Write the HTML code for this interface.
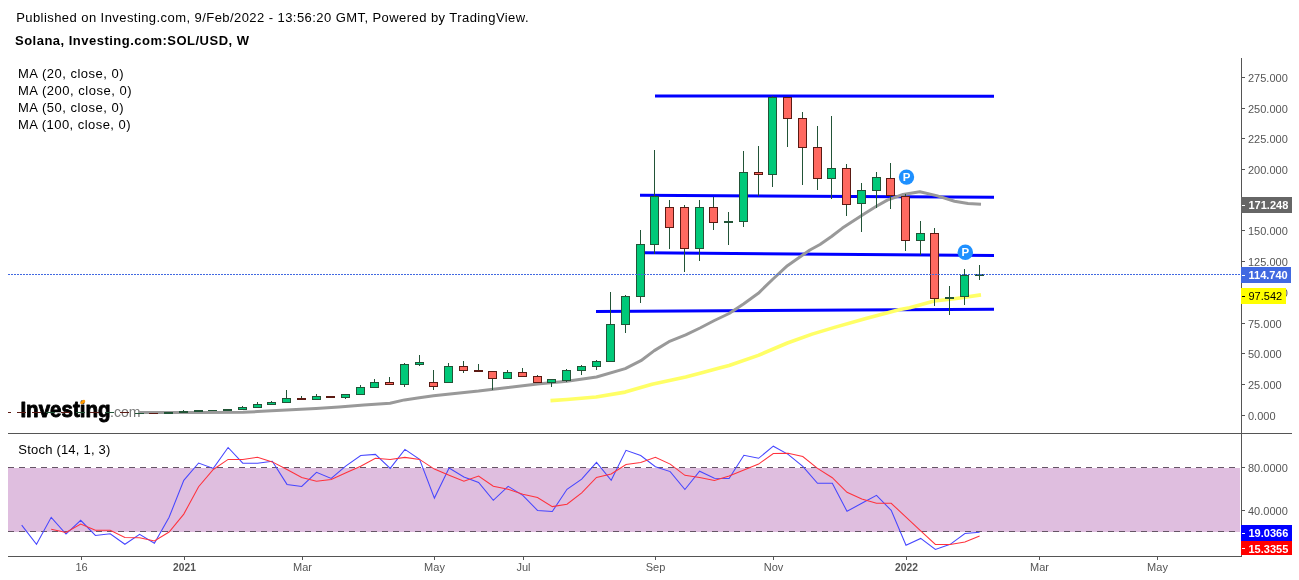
<!DOCTYPE html>
<html lang="en"><head><meta charset="utf-8"><title>Solana SOL/USD weekly chart</title>
<style>html,body{margin:0;padding:0;background:#fff}body{width:1299px;height:580px;overflow:hidden}svg{display:block}text{font-family:"Liberation Sans",Arial,sans-serif}.ax{font-size:11px;fill:#555}.tg{font-size:11px;font-weight:bold;fill:#fff}.lb{font-size:13px;fill:#000}</style></head><body>
<svg width="1299" height="580" viewBox="0 0 1299 580">
<rect width="1299" height="580" fill="#fff"/>
<defs><clipPath id="cp"><rect x="8" y="57" width="1233" height="376"/></clipPath></defs>
<text class="lb" x="16.2" y="22" textLength="512.3" lengthAdjust="spacing">Published on Investing.com, 9/Feb/2022 - 13:56:20 GMT, Powered by TradingView.</text>
<text class="lb" x="15" y="45" font-weight="bold" fill="#000" textLength="234" lengthAdjust="spacing">Solana, Investing.com:SOL/USD, W</text>
<text class="lb" x="18" y="78.3" textLength="105.5" lengthAdjust="spacing">MA (20, close, 0)</text>
<text class="lb" x="18" y="95.3" textLength="113.5" lengthAdjust="spacing">MA (200, close, 0)</text>
<text class="lb" x="18" y="112.3" textLength="105.5" lengthAdjust="spacing">MA (50, close, 0)</text>
<text class="lb" x="18" y="129.3" textLength="112.5" lengthAdjust="spacing">MA (100, close, 0)</text>
<g id="logo"><text x="20.4" y="416.7" font-size="21.5" font-weight="bold" fill="#000" stroke="#000" stroke-width="0.9" stroke-linejoin="round" textLength="90.2" lengthAdjust="spacingAndGlyphs">Investing</text>
<text x="110" y="416.7" font-size="14" fill="#777" textLength="30.5" lengthAdjust="spacingAndGlyphs">.com</text>
<ellipse cx="82.8" cy="402" rx="2.8" ry="1.6" fill="#FF9900" transform="rotate(-35 82.8 402)"/></g>
<rect x="8" y="468" width="1232" height="64" fill="#DFBEDF" shape-rendering="crispEdges"/>
<g stroke="#665566" stroke-width="1" stroke-dasharray="6 5" shape-rendering="crispEdges"><line x1="8" y1="467.5" x2="1240" y2="467.5"/><line x1="8" y1="531.5" x2="1240" y2="531.5"/></g>
<g stroke="#0000FF" stroke-width="3" fill="none">
<line x1="655" y1="96" x2="994" y2="96.2"/>
<line x1="640" y1="195.2" x2="994" y2="197.2"/>
<line x1="644.5" y1="252.8" x2="994" y2="255.6"/>
<line x1="596" y1="311.5" x2="994" y2="309.2"/>
</g>
<polyline fill="none" stroke="#999999" stroke-width="3" stroke-linejoin="round" points="139,412.5 200,412.5 243,412.2 257.5,411.6 271.5,410.8 286.5,409.9 301,409.2 316,408.4 339,406.9 363.9,405 390,403.2 404.5,399.9 419.3,397.8 433.5,395.8 450,394 478.5,391.1 508,387.4 537.5,384.1 567,381.3 596.5,377 625.2,368.6 640.9,360.7 654.3,350.6 668.9,341.7 685.7,334.9 700,328 714.4,320.5 729.1,313.5 743.5,304 758.3,293.3 772.5,279.5 787.4,265.7 802,255.5 809.9,250 820,244.5 831.5,236.5 842.4,228.1 864.8,213.5 876,206.5 887.3,200.1 903,194.5 919.8,191.8 936.6,195.6 954.5,201.2 968,203.5 981,204.3"/>
<polyline fill="none" stroke="#FFFF66" stroke-width="3.6" stroke-linejoin="round" points="550.5,400.6 567,399.5 596,397 625.2,392.1 652.1,384.3 685.7,376.9 700,373.3 719.4,368.1 729.1,365.5 758.3,355.4 787.4,343 812.1,334.1 834.5,327.4 865.9,318.4 900,309.4 909.7,307.7 934.3,301 954.5,298.7 981,294.9"/>
<g clip-path="url(#cp)" shape-rendering="crispEdges">
<rect x="2" y="412" width="9" height="1" fill="#5B1A13"/>
<rect x="17" y="412" width="9" height="1" fill="#5B1A13"/>
<rect x="32" y="412" width="9" height="1" fill="#5B1A13"/>
<rect x="46" y="412" width="9" height="1" fill="#225437"/>
<rect x="61" y="412" width="9" height="1" fill="#5B1A13"/>
<rect x="76" y="412" width="9" height="1" fill="#225437"/>
<rect x="90" y="412" width="9" height="1" fill="#5B1A13"/>
<rect x="105" y="412" width="9" height="1" fill="#225437"/>
<rect x="120" y="412" width="9" height="1" fill="#5B1A13"/>
<rect x="135" y="413" width="9" height="1" fill="#225437"/>
<rect x="149" y="413" width="9" height="1" fill="#5B1A13"/>
<rect x="164" y="412" width="9" height="2" fill="#225437"/>
<rect x="183" y="410" width="1" height="3" fill="#225437"/>
<rect x="179" y="411" width="9" height="2" fill="#225437"/>
<rect x="194" y="410" width="9" height="2" fill="#225437"/>
<rect x="208" y="410" width="9" height="1" fill="#225437"/>
<rect x="223" y="409" width="9" height="2" fill="#225437"/>
<rect x="242" y="406" width="1" height="4" fill="#225437"/>
<rect x="238" y="407" width="9" height="3" fill="#225437"/>
<rect x="239" y="408" width="7" height="1" fill="#00C979"/>
<rect x="257" y="402" width="1" height="6" fill="#225437"/>
<rect x="253" y="404" width="9" height="4" fill="#225437"/>
<rect x="254" y="405" width="7" height="2" fill="#00C979"/>
<rect x="271" y="401" width="1" height="4" fill="#225437"/>
<rect x="267" y="402" width="9" height="3" fill="#225437"/>
<rect x="268" y="403" width="7" height="1" fill="#00C979"/>
<rect x="286" y="390" width="1" height="13" fill="#225437"/>
<rect x="282" y="398" width="9" height="5" fill="#225437"/>
<rect x="283" y="399" width="7" height="3" fill="#00C979"/>
<rect x="301" y="396" width="1" height="4" fill="#225437"/>
<rect x="297" y="398" width="9" height="2" fill="#5B1A13"/>
<rect x="316" y="394" width="1" height="6" fill="#225437"/>
<rect x="312" y="396" width="9" height="4" fill="#225437"/>
<rect x="313" y="397" width="7" height="2" fill="#00C979"/>
<rect x="326" y="396" width="9" height="2" fill="#5B1A13"/>
<rect x="345" y="394" width="1" height="5" fill="#225437"/>
<rect x="341" y="394" width="9" height="4" fill="#225437"/>
<rect x="342" y="395" width="7" height="2" fill="#00C979"/>
<rect x="360" y="385" width="1" height="10" fill="#225437"/>
<rect x="356" y="387" width="9" height="8" fill="#225437"/>
<rect x="357" y="388" width="7" height="6" fill="#00C979"/>
<rect x="374" y="379" width="1" height="9" fill="#225437"/>
<rect x="370" y="382" width="9" height="6" fill="#225437"/>
<rect x="371" y="383" width="7" height="4" fill="#00C979"/>
<rect x="389" y="377" width="1" height="8" fill="#225437"/>
<rect x="385" y="382" width="9" height="3" fill="#5B1A13"/>
<rect x="386" y="383" width="7" height="1" fill="#FF6960"/>
<rect x="404" y="363" width="1" height="24" fill="#225437"/>
<rect x="400" y="364" width="9" height="21" fill="#225437"/>
<rect x="401" y="365" width="7" height="19" fill="#00C979"/>
<rect x="419" y="355" width="1" height="11" fill="#225437"/>
<rect x="415" y="362" width="9" height="3" fill="#225437"/>
<rect x="416" y="363" width="7" height="1" fill="#00C979"/>
<rect x="433" y="370" width="1" height="20" fill="#225437"/>
<rect x="429" y="382" width="9" height="5" fill="#5B1A13"/>
<rect x="430" y="383" width="7" height="3" fill="#FF6960"/>
<rect x="448" y="363" width="1" height="20" fill="#225437"/>
<rect x="444" y="366" width="9" height="17" fill="#225437"/>
<rect x="445" y="367" width="7" height="15" fill="#00C979"/>
<rect x="463" y="361" width="1" height="12" fill="#225437"/>
<rect x="459" y="366" width="9" height="5" fill="#5B1A13"/>
<rect x="460" y="367" width="7" height="3" fill="#FF6960"/>
<rect x="478" y="364" width="1" height="8" fill="#225437"/>
<rect x="474" y="370" width="9" height="2" fill="#5B1A13"/>
<rect x="492" y="371" width="1" height="19" fill="#225437"/>
<rect x="488" y="371" width="9" height="8" fill="#5B1A13"/>
<rect x="489" y="372" width="7" height="6" fill="#FF6960"/>
<rect x="507" y="370" width="1" height="9" fill="#225437"/>
<rect x="503" y="372" width="9" height="7" fill="#225437"/>
<rect x="504" y="373" width="7" height="5" fill="#00C979"/>
<rect x="522" y="368" width="1" height="9" fill="#225437"/>
<rect x="518" y="372" width="9" height="5" fill="#5B1A13"/>
<rect x="519" y="373" width="7" height="3" fill="#FF6960"/>
<rect x="537" y="375" width="1" height="8" fill="#225437"/>
<rect x="533" y="376" width="9" height="7" fill="#5B1A13"/>
<rect x="534" y="377" width="7" height="5" fill="#FF6960"/>
<rect x="551" y="379" width="1" height="8" fill="#225437"/>
<rect x="547" y="379" width="9" height="4" fill="#225437"/>
<rect x="548" y="380" width="7" height="2" fill="#00C979"/>
<rect x="566" y="369" width="1" height="13" fill="#225437"/>
<rect x="562" y="370" width="9" height="11" fill="#225437"/>
<rect x="563" y="371" width="7" height="9" fill="#00C979"/>
<rect x="581" y="365" width="1" height="10" fill="#225437"/>
<rect x="577" y="366" width="9" height="5" fill="#225437"/>
<rect x="578" y="367" width="7" height="3" fill="#00C979"/>
<rect x="596" y="360" width="1" height="10" fill="#225437"/>
<rect x="592" y="361" width="9" height="6" fill="#225437"/>
<rect x="593" y="362" width="7" height="4" fill="#00C979"/>
<rect x="610" y="292" width="1" height="69.5" fill="#225437"/>
<rect x="606" y="324" width="9" height="37.5" fill="#225437"/>
<rect x="607" y="325" width="7" height="35.5" fill="#00C979"/>
<rect x="625" y="295" width="1" height="38" fill="#225437"/>
<rect x="621" y="296" width="9" height="28.5" fill="#225437"/>
<rect x="622" y="297" width="7" height="26.5" fill="#00C979"/>
<rect x="640" y="230" width="1" height="72.5" fill="#225437"/>
<rect x="636" y="244" width="9" height="52.5" fill="#225437"/>
<rect x="637" y="245" width="7" height="50.5" fill="#00C979"/>
<rect x="654" y="150" width="1" height="104" fill="#225437"/>
<rect x="650" y="196" width="9" height="48.5" fill="#225437"/>
<rect x="651" y="197" width="7" height="46.5" fill="#00C979"/>
<rect x="669" y="200" width="1" height="49" fill="#225437"/>
<rect x="665" y="207" width="9" height="20.5" fill="#5B1A13"/>
<rect x="666" y="208" width="7" height="18.5" fill="#FF6960"/>
<rect x="684" y="205" width="1" height="67" fill="#225437"/>
<rect x="680" y="207" width="9" height="41.5" fill="#5B1A13"/>
<rect x="681" y="208" width="7" height="39.5" fill="#FF6960"/>
<rect x="699" y="200" width="1" height="61" fill="#225437"/>
<rect x="695" y="207" width="9" height="41.5" fill="#225437"/>
<rect x="696" y="208" width="7" height="39.5" fill="#00C979"/>
<rect x="713" y="197" width="1" height="33" fill="#225437"/>
<rect x="709" y="207" width="9" height="15.5" fill="#5B1A13"/>
<rect x="710" y="208" width="7" height="13.5" fill="#FF6960"/>
<rect x="728" y="212" width="1" height="32.5" fill="#225437"/>
<rect x="724" y="221" width="9" height="2" fill="#225437"/>
<rect x="743" y="151" width="1" height="75.5" fill="#225437"/>
<rect x="739" y="172" width="9" height="49.5" fill="#225437"/>
<rect x="740" y="173" width="7" height="47.5" fill="#00C979"/>
<rect x="758" y="146" width="1" height="49.5" fill="#225437"/>
<rect x="754" y="172" width="9" height="3" fill="#5B1A13"/>
<rect x="755" y="173" width="7" height="1" fill="#FF6960"/>
<rect x="772" y="96" width="1" height="91" fill="#225437"/>
<rect x="768" y="97" width="9" height="77.5" fill="#225437"/>
<rect x="769" y="98" width="7" height="75.5" fill="#00C979"/>
<rect x="787" y="97" width="1" height="50" fill="#225437"/>
<rect x="783" y="97" width="9" height="22" fill="#5B1A13"/>
<rect x="784" y="98" width="7" height="20" fill="#FF6960"/>
<rect x="802" y="112" width="1" height="73" fill="#225437"/>
<rect x="798" y="118" width="9" height="29.5" fill="#5B1A13"/>
<rect x="799" y="119" width="7" height="27.5" fill="#FF6960"/>
<rect x="817" y="126" width="1" height="63.5" fill="#225437"/>
<rect x="813" y="147" width="9" height="31.5" fill="#5B1A13"/>
<rect x="814" y="148" width="7" height="29.5" fill="#FF6960"/>
<rect x="831" y="116" width="1" height="83" fill="#225437"/>
<rect x="827" y="168" width="9" height="10.5" fill="#225437"/>
<rect x="828" y="169" width="7" height="8.5" fill="#00C979"/>
<rect x="846" y="164" width="1" height="52" fill="#225437"/>
<rect x="842" y="168" width="9" height="36.5" fill="#5B1A13"/>
<rect x="843" y="169" width="7" height="34.5" fill="#FF6960"/>
<rect x="861" y="183" width="1" height="49" fill="#225437"/>
<rect x="857" y="190" width="9" height="13.5" fill="#225437"/>
<rect x="858" y="191" width="7" height="11.5" fill="#00C979"/>
<rect x="876" y="172" width="1" height="36" fill="#225437"/>
<rect x="872" y="177" width="9" height="13.5" fill="#225437"/>
<rect x="873" y="178" width="7" height="11.5" fill="#00C979"/>
<rect x="890" y="163" width="1" height="46" fill="#225437"/>
<rect x="886" y="178" width="9" height="17.5" fill="#5B1A13"/>
<rect x="887" y="179" width="7" height="15.5" fill="#FF6960"/>
<rect x="905" y="194" width="1" height="57" fill="#225437"/>
<rect x="901" y="195.5" width="9" height="45" fill="#5B1A13"/>
<rect x="902" y="196.5" width="7" height="43" fill="#FF6960"/>
<rect x="920" y="221" width="1" height="34" fill="#225437"/>
<rect x="916" y="233" width="9" height="7.5" fill="#225437"/>
<rect x="917" y="234" width="7" height="5.5" fill="#00C979"/>
<rect x="934" y="228" width="1" height="78" fill="#225437"/>
<rect x="930" y="233" width="9" height="66" fill="#5B1A13"/>
<rect x="931" y="234" width="7" height="64" fill="#FF6960"/>
<rect x="949" y="286" width="1" height="29" fill="#225437"/>
<rect x="945" y="297" width="9" height="2" fill="#225437"/>
<rect x="964" y="269" width="1" height="36" fill="#225437"/>
<rect x="960" y="275" width="9" height="22" fill="#225437"/>
<rect x="961" y="276" width="7" height="20" fill="#00C979"/>
<rect x="979" y="265" width="1" height="15" fill="#225437"/>
<rect x="975" y="274" width="9" height="2" fill="#225437"/>
</g>
<line x1="8" y1="274.5" x2="1241" y2="274.5" stroke="#4169E1" stroke-width="1" stroke-dasharray="2 1" shape-rendering="crispEdges"/>
<circle cx="906.5" cy="177.1" r="7.7" fill="#1E90FF"/><text x="906.5" y="180.9" font-size="11.5" font-weight="bold" fill="#fff" text-anchor="middle">P</text>
<circle cx="965.3" cy="252.3" r="7.7" fill="#1E90FF"/><text x="965.3" y="256.1" font-size="11.5" font-weight="bold" fill="#fff" text-anchor="middle">P</text>
<polyline fill="none" stroke="#4646FF" stroke-width="1.05" points="21.7,525.1 36.5,544.3 51.2,517.3 66.0,534.1 80.7,520.3 95.4,535.4 110.2,533.7 124.9,544.3 139.6,534.4 154.4,543.2 169.1,517.3 183.8,480.3 198.6,463 213.3,468.4 228.1,447.5 242.8,463.2 257.5,463.2 272.3,461.3 287.0,484.4 301.7,486.5 316.5,472.3 331.2,478.5 346.0,465.8 360.7,455.5 375.4,454.4 390.2,468.4 404.9,449.4 419.6,459.4 434.4,498.1 449.1,468 463.9,477 478.6,482.4 493.3,500.3 508.1,486.3 522.8,495.3 537.5,510.4 552.3,511.5 567.0,489.3 581.7,479.2 596.5,462.4 611.2,480.3 626.0,450.3 640.7,455.5 655.4,466.7 670.2,471.6 684.9,489.5 699.6,471.2 714.4,478.3 729.1,478.5 743.9,455.3 758.6,458.3 773.3,446.2 788.1,454.4 802.8,466.3 817.5,483.3 832.3,483.3 847.0,511.3 861.8,503.3 876.5,495.3 891.2,510.4 906.0,545.3 920.7,538.4 935.4,549.4 950.2,544.3 964.9,533.5 979.6,532.2"/>
<polyline fill="none" stroke="#FF323C" stroke-width="1.05" points="51.2,529.2 66.0,532.4 80.7,524 95.4,530.3 110.2,530.3 124.9,537.4 139.6,537.8 154.4,541 169.1,532 183.8,514.1 198.6,486.7 213.3,469.5 228.1,459.4 242.8,459.4 257.5,457.2 272.3,461.9 287.0,469.5 301.7,477.5 316.5,481.3 331.2,479.6 346.0,472.7 360.7,466.3 375.4,458.3 390.2,459.4 404.9,457.4 419.6,459.4 434.4,469.1 449.1,475.3 463.9,481.3 478.6,476 493.3,486.3 508.1,489.3 522.8,494.3 537.5,497.5 552.3,506.6 567.0,504.2 581.7,492.8 596.5,477.5 611.2,474 626.0,464.5 640.7,462.4 655.4,457.2 670.2,464.1 684.9,475.3 699.6,477.5 714.4,480.5 729.1,476 743.9,470.1 758.6,464.1 773.3,453.5 788.1,453.3 802.8,456.6 817.5,468.4 832.3,477.7 847.0,492.3 861.8,499 876.5,503.3 891.2,503.3 906.0,517.1 920.7,530.9 935.4,544.5 950.2,544.5 964.9,542.1 979.6,536.1"/>
<text class="lb" x="18.3" y="454.4" textLength="92" lengthAdjust="spacing">Stoch (14, 1, 3)</text>
<g fill="#555" shape-rendering="crispEdges">
<rect x="1241" y="58" width="1" height="499"/>
<rect x="8" y="433" width="1284" height="1"/>
<rect x="8" y="556" width="1233" height="1"/>
<rect x="1242" y="77" width="3" height="1"/>
<rect x="1242" y="108" width="3" height="1"/>
<rect x="1242" y="138" width="3" height="1"/>
<rect x="1242" y="169" width="3" height="1"/>
<rect x="1242" y="200" width="3" height="1"/>
<rect x="1242" y="230" width="3" height="1"/>
<rect x="1242" y="261" width="3" height="1"/>
<rect x="1242" y="292" width="3" height="1"/>
<rect x="1242" y="323" width="3" height="1"/>
<rect x="1242" y="353" width="3" height="1"/>
<rect x="1242" y="384" width="3" height="1"/>
<rect x="1242" y="415" width="3" height="1"/>
<rect x="1242" y="467" width="3" height="1"/>
<rect x="1242" y="510" width="3" height="1"/>
<rect x="81" y="557" width="1" height="3"/>
<rect x="184" y="557" width="1" height="3"/>
<rect x="302" y="557" width="1" height="3"/>
<rect x="434" y="557" width="1" height="3"/>
<rect x="523" y="557" width="1" height="3"/>
<rect x="655" y="557" width="1" height="3"/>
<rect x="773" y="557" width="1" height="3"/>
<rect x="906" y="557" width="1" height="3"/>
<rect x="1039" y="557" width="1" height="3"/>
<rect x="1157" y="557" width="1" height="3"/>
</g>
<text class="ax" x="1248" y="81.5">275.000</text>
<text class="ax" x="1248" y="112.5">250.000</text>
<text class="ax" x="1248" y="142.5">225.000</text>
<text class="ax" x="1248" y="173.5">200.000</text>
<text class="ax" x="1248" y="234.5">150.000</text>
<text class="ax" x="1248" y="265.5">125.000</text>
<text class="ax" x="1248" y="296.5">100.000</text>
<text class="ax" x="1248" y="327.5">75.000</text>
<text class="ax" x="1248" y="357.5">50.000</text>
<text class="ax" x="1248" y="388.5">25.000</text>
<text class="ax" x="1248" y="419.5">0.000</text>
<text class="ax" x="1248" y="471.5">80.0000</text><text class="ax" x="1248" y="514.5">40.0000</text>
<text class="ax" x="81.5" y="571" text-anchor="middle">16</text>
<text class="ax" x="184.5" y="571" text-anchor="middle" font-weight="bold" textLength="22.8" lengthAdjust="spacingAndGlyphs">2021</text>
<text class="ax" x="302.5" y="571" text-anchor="middle">Mar</text>
<text class="ax" x="434.5" y="571" text-anchor="middle">May</text>
<text class="ax" x="523.5" y="571" text-anchor="middle">Jul</text>
<text class="ax" x="655.5" y="571" text-anchor="middle">Sep</text>
<text class="ax" x="773.5" y="571" text-anchor="middle">Nov</text>
<text class="ax" x="906.5" y="571" text-anchor="middle" font-weight="bold" textLength="22.8" lengthAdjust="spacingAndGlyphs">2022</text>
<text class="ax" x="1039.5" y="571" text-anchor="middle">Mar</text>
<text class="ax" x="1157.5" y="571" text-anchor="middle">May</text>
<rect x="1241" y="197" width="51" height="16" fill="#666666" shape-rendering="crispEdges"/>
<rect x="1242" y="205" width="3" height="1" fill="#fff" shape-rendering="crispEdges"/>
<text x="1248.5" y="209" font-size="11" fill="#fff" font-weight="bold">171.248</text>
<rect x="1241" y="267" width="50" height="16" fill="#4169E1" shape-rendering="crispEdges"/>
<rect x="1242" y="275" width="3" height="1" fill="#fff" shape-rendering="crispEdges"/>
<text x="1248.5" y="279" font-size="11" fill="#fff" font-weight="bold">114.740</text>
<rect x="1241" y="288" width="45" height="16" fill="#FFFF00" shape-rendering="crispEdges"/>
<rect x="1242" y="296" width="3" height="1" fill="#000" shape-rendering="crispEdges"/>
<text x="1248.5" y="300" font-size="11" fill="#000">97.542</text>
<rect x="1241" y="525" width="51" height="16" fill="#0000FF" shape-rendering="crispEdges"/>
<rect x="1242" y="533" width="3" height="1" fill="#fff" shape-rendering="crispEdges"/>
<text x="1248.5" y="537" font-size="11" fill="#fff" font-weight="bold">19.0366</text>
<rect x="1241" y="541" width="51" height="14" fill="#FF0000" shape-rendering="crispEdges"/>
<rect x="1242" y="548" width="3" height="1" fill="#fff" shape-rendering="crispEdges"/>
<text x="1248.5" y="552.5" font-size="11" fill="#fff" font-weight="bold">15.3355</text>
</svg></body></html>
